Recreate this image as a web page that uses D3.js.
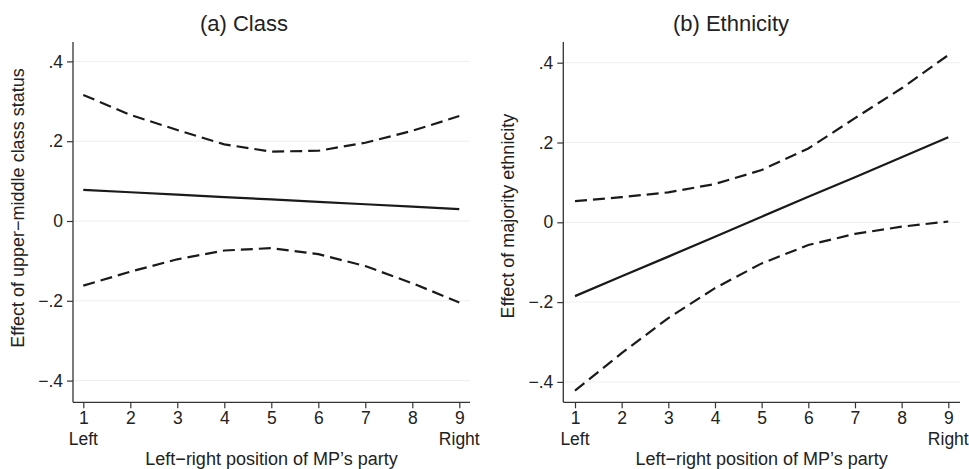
<!DOCTYPE html>
<html>
<head>
<meta charset="utf-8">
<script src="https://cdn.jsdelivr.net/npm/d3@7"></script>
<style>
  body { margin: 0; background: #fff; }
  svg { display: block; font-family: "Liberation Sans", Arial, sans-serif; }
</style>
</head>
<body>
<svg id="chart" width="969" height="469" viewBox="0 0 969 469"></svg>
<script>
// data
const positions = [1, 2, 3, 4, 5, 6, 7, 8, 9];
const yTicks = [-0.4, -0.2, 0, 0.2, 0.4];

const classEffect = [0.078, 0.072, 0.066, 0.060, 0.054, 0.048, 0.042, 0.036, 0.030];
const classUpper = [0.316, 0.266, 0.228, 0.192, 0.174, 0.176, 0.196, 0.226, 0.263];
const classLower = [-0.162, -0.127, -0.096, -0.074, -0.068, -0.083, -0.113, -0.156, -0.204];

const ethEffect = [-0.185, -0.135, -0.086, -0.036, 0.014, 0.064, 0.113, 0.163, 0.213];
const ethUpper = [0.053, 0.063, 0.075, 0.096, 0.131, 0.185, 0.261, 0.336, 0.419];
const ethLower = [-0.422, -0.328, -0.240, -0.165, -0.103, -0.057, -0.029, -0.011, 0.002];

const panels = [
  { title: '(a) Class', ytitle: 'Effect of upper\u2212middle class status',
    effect: classEffect, upper: classUpper, lower: classLower,
    left: 73, right: 470, x1: 83.3, x9: 459.3, y0: 221, titleX: 244, ytitleX: 18, ytitleY: 208 },
  { title: '(b) Ethnicity', ytitle: 'Effect of majority ethnicity',
    effect: ethEffect, upper: ethUpper, lower: ethLower,
    left: 563.3, right: 960, x1: 575, x9: 948.3, y0: 222.3, titleX: 731, ytitleX: 508, ytitleY: 216 }
];

const svg = d3.select('#chart');
const plotTop = 42;
const plotBottom = 402.3;
const pxPerUnit = 399;
const tickFont = 17.5;
const titleFont = 18;

const fmt = d => d === 0 ? '0' : (d < 0 ? '\u2212' : '') + d3.format('.1f')(Math.abs(d)).replace(/^0/, '');

panels.forEach(p => {
  const g = svg.append('g');

  const x = d3.scaleLinear().domain([1, 9]).range([p.x1, p.x9]);
  const y = d3.scaleLinear().domain([-0.4, 0.4]).range([p.y0 + 0.4 * pxPerUnit, p.y0 - 0.4 * pxPerUnit]);

  // grid
  g.append('g').selectAll('line').data(yTicks).enter().append('line')
    .attr('x1', p.left).attr('x2', p.right)
    .attr('y1', d => y(d)).attr('y2', d => y(d))
    .attr('stroke', '#eeeeee').attr('stroke-width', 1);

  // y axis
  const yAxis = d3.axisLeft(y).tickValues(yTicks).tickFormat(fmt).tickSize(6).tickPadding(4);
  const ya = g.append('g').attr('transform', 'translate(' + p.left + ',0)').call(yAxis);
  ya.select('.domain').remove();
  ya.append('line').attr('y1', plotTop).attr('y2', plotBottom).attr('stroke', '#333').attr('stroke-width', 1.3);
  ya.selectAll('.tick line').attr('stroke', '#333').attr('stroke-width', 1.2);
  ya.selectAll('.tick text').attr('font-size', tickFont).attr('fill', '#222').attr('font-family', null);

  // x axis
  const xAxis = d3.axisBottom(x).tickValues(positions).tickFormat(d3.format('d')).tickSize(6).tickPadding(3);
  const xa = g.append('g').attr('transform', 'translate(0,' + plotBottom + ')').call(xAxis);
  xa.select('.domain').remove();
  xa.append('line').attr('x1', p.left).attr('x2', p.right).attr('stroke', '#333').attr('stroke-width', 1.3);
  xa.selectAll('.tick line').attr('stroke', '#333').attr('stroke-width', 1.2);
  xa.selectAll('.tick text').attr('font-size', tickFont).attr('fill', '#222').attr('font-family', null);

  xa.append('text').attr('x', x(1)).attr('y', 43).attr('text-anchor', 'middle')
    .attr('font-size', tickFont).attr('fill', '#222').text('Left');
  xa.append('text').attr('x', x(9)).attr('y', 43).attr('text-anchor', 'middle')
    .attr('font-size', tickFont).attr('fill', '#222').text('Right');

  // axis titles
  g.append('text').attr('x', (p.left + p.right) / 2).attr('y', 465).attr('text-anchor', 'middle')
    .attr('font-size', titleFont).attr('fill', '#222').text('Left\u2212right position of MP\u2019s party');
  g.append('text').attr('transform', 'translate(' + (p.ytitleX + 6) + ',' + p.ytitleY + ') rotate(-90)')
    .attr('text-anchor', 'middle').attr('font-size', titleFont).attr('fill', '#222').text(p.ytitle);

  g.append('text').attr('x', p.titleX).attr('y', 31).attr('text-anchor', 'middle')
    .attr('font-size', 22).attr('fill', '#222').text(p.title);

  // lines
  const line = d3.line().x((d, i) => x(positions[i])).y(d => y(d));
  g.append('path').datum(p.upper).attr('d', line).attr('fill', 'none')
    .attr('stroke', '#1a1a1a').attr('stroke-width', 2.2).attr('stroke-dasharray', '12,6');
  g.append('path').datum(p.lower).attr('d', line).attr('fill', 'none')
    .attr('stroke', '#1a1a1a').attr('stroke-width', 2.2).attr('stroke-dasharray', '12,6');
  g.append('path').datum(p.effect).attr('d', line).attr('fill', 'none')
    .attr('stroke', '#1a1a1a').attr('stroke-width', 2.2);
});
</script>
</body>
</html>
